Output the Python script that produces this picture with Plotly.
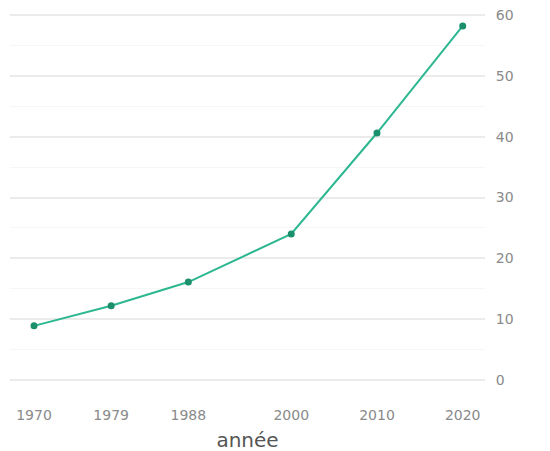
import plotly.graph_objects as go

annees = [1970, 1979, 1988, 2000, 2010, 2020]
valeurs = [8.9, 12.2, 16.1, 24.0, 40.6, 58.2]
y_ticks = [0, 10, 20, 30, 40, 50, 60]

fig = go.Figure()
fig.add_trace(go.Scatter(
    x=annees, y=valeurs, mode="lines+markers",
    line=dict(color="#2db791", width=2),
    marker=dict(color="#1c8f6d", size=7),
    showlegend=False,
))

fig.update_layout(
    width=550, height=451,
    margin=dict(l=2, r=73, t=0, b=67),
    plot_bgcolor="white", paper_bgcolor="white",
    font=dict(family="DejaVu Sans, sans-serif", color="#8a8a8a", size=14),
    xaxis=dict(
        range=[1967.2, 2022.6],
        tickvals=annees, ticktext=[str(a) for a in annees],
        showgrid=False, zeroline=False, showline=False,
        ticks="outside", ticklen=10, tickcolor="rgba(0,0,0,0)",
        title=dict(text="année", font=dict(size=20, color="#555555"), standoff=11),
    ),
    yaxis=dict(
        side="right", range=[-1.97, 61.15],
        tickvals=y_ticks, ticklabeloverflow="allow",
        showgrid=True, gridcolor="#ebebeb", gridwidth=1.5,
        zeroline=False, showline=False,
        minor=dict(dtick=5, showgrid=True, gridcolor="#f6f6f6", gridwidth=1),
        ticks="outside", ticklen=7, tickcolor="rgba(0,0,0,0)",
    ),
)

fig.write_html("out.html")
